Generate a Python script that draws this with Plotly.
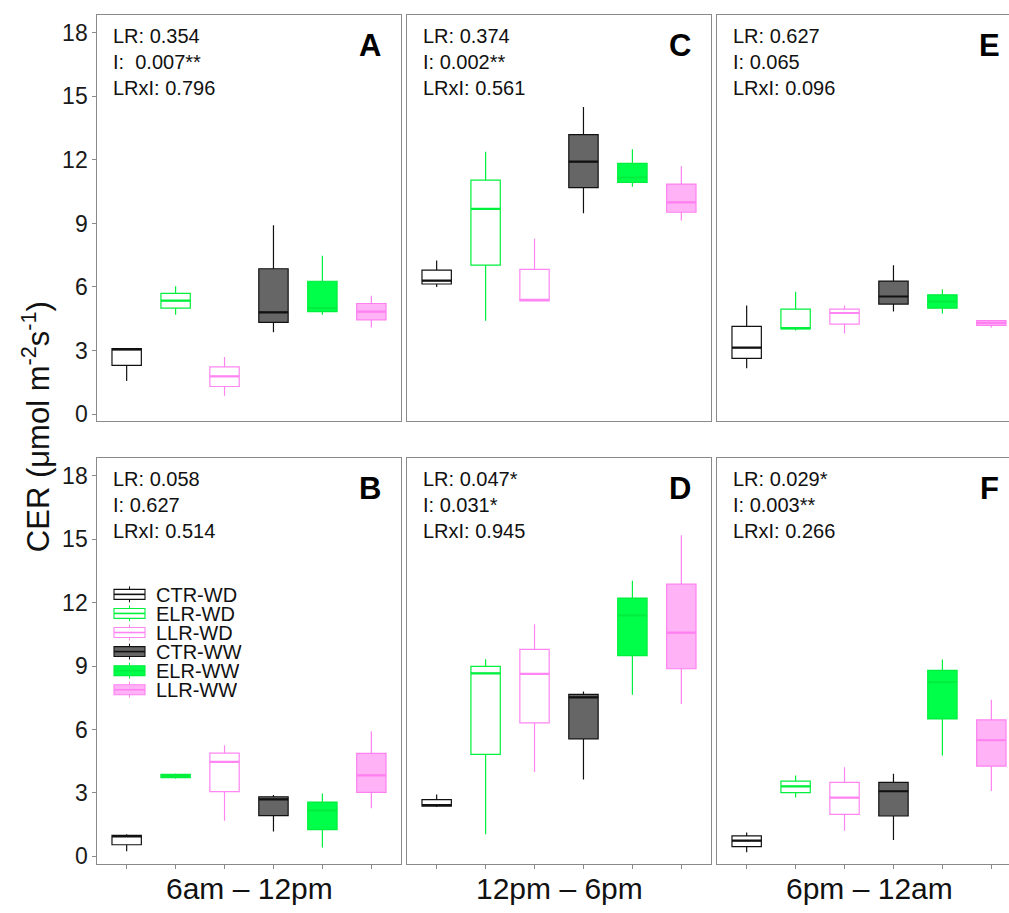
import plotly.graph_objects as go

# ---------------- data ----------------
groups = ["CTR-WD", "ELR-WD", "LLR-WD", "CTR-WW", "ELR-WW", "LLR-WW"]
positions = [1, 2, 3, 4, 5, 6]
time_labels = ["6am \u2013 12pm", "12pm \u2013 6pm", "6pm \u2013 12am"]
panel_letters = ["A", "C", "E", "B", "D", "F"]

# Panel A (6am-12pm, top)
lo_A = [1.56, 4.69, 0.86, 3.86, 4.69, 4.09]
q1_A = [2.30, 5.00, 1.30, 4.33, 4.84, 4.45]
md_A = [3.05, 5.36, 1.78, 4.80, 5.00, 4.84]
q3_A = [3.09, 5.70, 2.23, 6.86, 6.27, 5.22]
hi_A = [3.12, 6.03, 2.69, 8.91, 7.47, 5.58]
# Panel C (12pm-6pm, top)
lo_C = [6.00, 4.41, 5.34, 9.48, 10.73, 9.14]
q1_C = [6.14, 7.03, 5.34, 10.69, 10.94, 9.53]
md_C = [6.30, 9.69, 5.39, 11.92, 11.17, 10.00]
q3_C = [6.80, 11.05, 6.83, 13.20, 11.84, 10.86]
hi_C = [7.25, 12.39, 8.28, 14.50, 12.50, 11.70]
# Panel E (6pm-12am, top)
lo_E = [2.16, 3.94, 3.80, 4.84, 4.75, 4.09]
q1_E = [2.63, 4.02, 4.25, 5.19, 5.00, 4.19]
md_E = [3.14, 4.06, 4.77, 5.55, 5.31, 4.30]
q3_E = [4.14, 4.95, 4.95, 6.28, 5.63, 4.41]
hi_E = [5.13, 5.78, 5.13, 7.03, 5.89, 4.41]
# Panel B (6am-12pm, bottom)
lo_B = [0.24, 3.67, 1.68, 1.18, 0.42, 2.28]
q1_B = [0.55, 3.72, 3.06, 1.93, 1.27, 3.03]
md_B = [0.94, 3.80, 4.47, 2.70, 2.18, 3.83]
q3_B = [0.99, 3.88, 4.88, 2.82, 2.57, 4.87]
hi_B = [1.05, 3.92, 5.26, 2.90, 2.97, 5.92]
# Panel D (12pm-6pm, bottom)
lo_D = [2.34, 1.05, 3.99, 3.64, 7.64, 7.20]
q1_D = [2.37, 4.82, 6.31, 5.56, 9.49, 8.87]
md_D = [2.43, 8.65, 8.63, 7.52, 11.39, 10.58]
q3_D = [2.68, 8.98, 9.79, 7.66, 12.21, 12.87]
hi_D = [2.93, 9.32, 10.97, 7.80, 13.03, 15.18]
# Panel F (6pm-12am, bottom)
lo_F = [0.19, 2.78, 1.21, 0.77, 4.77, 3.09]
q1_F = [0.46, 3.01, 1.99, 1.91, 6.50, 4.27]
md_F = [0.75, 3.31, 2.78, 3.08, 8.24, 5.49]
q3_F = [0.97, 3.56, 3.50, 3.50, 8.79, 6.45]
hi_F = [1.13, 3.83, 4.22, 3.91, 9.31, 7.41]

stats_text = [
    ["LR: 0.354", "I:\u00a0 0.007**", "LRxI: 0.796"],
    ["LR: 0.374", "I: 0.002**", "LRxI: 0.561"],
    ["LR: 0.627", "I: 0.065", "LRxI: 0.096"],
    ["LR: 0.058", "I: 0.627", "LRxI: 0.514"],
    ["LR: 0.047*", "I: 0.031*", "LRxI: 0.945"],
    ["LR: 0.029*", "I: 0.003**", "LRxI: 0.266"],
]
y_ticks = [0, 3, 6, 9, 12, 15, 18]

# ---------------- style ----------------
line_colors = ["#111111", "#00f03c", "#ff85f2", "#111111", "#00ee3e", "#ff80f0"]
fill_colors = ["#ffffff", "#ffffff", "#ffffff", "#666666", "#00ff48", "#ffb3f6"]
frame_col = "#8a8a8a"
FONT = "Liberation Sans, Arial, Helvetica, sans-serif"
W, H = 1009, 913

def px(p):
    return p / W

def py(p):
    return 1 - p / H

col_px = [(97.3, 400.7), (407.3, 710.7), (717.3, 1020.7)]
row_px = [(15.0, 424.0), (460.7, 869.3)]
unit_px = (col_px[0][1] - col_px[0][0]) / 6.2
yrange = [-0.34, 18.85]

panels = [
    (lo_A, q1_A, md_A, q3_A, hi_A),
    (lo_C, q1_C, md_C, q3_C, hi_C),
    (lo_E, q1_E, md_E, q3_E, hi_E),
    (lo_B, q1_B, md_B, q3_B, hi_B),
    (lo_D, q1_D, md_D, q3_D, hi_D),
    (lo_F, q1_F, md_F, q3_F, hi_F),
]

fig = go.Figure()
layout = dict(
    width=W, height=H, margin=dict(l=0, r=0, t=0, b=0),
    plot_bgcolor="white", paper_bgcolor="white",
    showlegend=False, font=dict(family=FONT, color="#111111"),
    boxmode="overlay",
)
annotations = []
shapes = []

for k in range(6):
    r, c = divmod(k, 3)
    ax = "" if k == 0 else str(k + 1)
    xl, xr = col_px[c]
    yt, yb = row_px[r]
    xr_vis = min(xr, W)
    x_hi = 0.4 + (xr_vis - xl) / unit_px
    layout["xaxis" + ax] = dict(
        domain=[px(xl), px(xr_vis)], range=[0.4, x_hi], anchor="y" + ax,
        showline=True, mirror=True, linecolor=frame_col, linewidth=1,
        showgrid=False, zeroline=False, tickvals=positions,
        ticks="outside" if r == 1 else "", ticklen=4, tickcolor=frame_col,
        showticklabels=False, fixedrange=True,
    )
    layout["yaxis" + ax] = dict(
        domain=[py(yb), py(yt)], range=yrange, anchor="x" + ax,
        showline=True, mirror=(c != 2), linecolor=frame_col, linewidth=1,
        showgrid=False, zeroline=False, tickvals=y_ticks,
        ticks="outside" if c == 0 else "", ticklen=4, tickcolor=frame_col,
        showticklabels=(c == 0), tickfont=dict(size=23, color="#1a1a1a"),
        fixedrange=True,
    )
    lo, q1, md, q3, hi = panels[k]
    for g in range(6):
        fig.add_trace(go.Box(
            x=[positions[g]], q1=[q1[g]], median=[md[g]], q3=[q3[g]],
            lowerfence=[lo[g]], upperfence=[hi[g]], width=0.6, whiskerwidth=0,
            line=dict(color=line_colors[g], width=1.2), fillcolor=fill_colors[g],
            boxpoints=False, name=groups[g], xaxis="x" + ax, yaxis="y" + ax,
            hoverinfo="skip",
        ))
        # thicker median bar
        fig.add_trace(go.Box(
            x=[positions[g]], q1=[md[g]], median=[md[g]], q3=[md[g]],
            lowerfence=[md[g]], upperfence=[md[g]], width=0.6, whiskerwidth=0,
            line=dict(color=line_colors[g], width=2.2), fillcolor="rgba(0,0,0,0)",
            boxpoints=False, name=groups[g], xaxis="x" + ax, yaxis="y" + ax,
            hoverinfo="skip",
        ))
    # stats text
    annotations.append(dict(
        x=px(xl + 14), y=py(yt + 8), xref="paper", yref="paper",
        xanchor="left", yanchor="top", align="left", showarrow=False,
        text="<br>".join(stats_text[k]), font=dict(size=20, color="#111111"),
    ))
    # panel letter
    annotations.append(dict(
        x=px(xr - 31), y=py(yt + 31), xref="paper", yref="paper",
        xanchor="center", yanchor="middle", showarrow=False,
        text="<b>" + panel_letters[k] + "</b>", font=dict(size=31, color="#000000"),
    ))

# column titles
for c in range(3):
    xl, xr = col_px[c]
    annotations.append(dict(
        x=px((xl + xr) / 2), y=py(894), xref="paper", yref="paper",
        xanchor="center", yanchor="middle", showarrow=False,
        text=time_labels[c], font=dict(size=30, color="#111111"),
    ))

# y title
annotations.append(dict(
    x=px(36), y=py(430), xref="paper", yref="paper",
    xanchor="center", yanchor="middle", showarrow=False, textangle=-90,
    text="CER (\u03bcmol m<sup>-2</sup>s<sup>-1</sup>)", font=dict(size=31, color="#111111"),
))

# legend (panel B)
for g in range(6):
    yc = 598.3 + 19.2 * g
    x0, x1 = 114, 145
    xm = (x0 + x1) / 2
    shapes.append(dict(type="rect", xref="paper", yref="paper",
                       x0=px(x0), x1=px(x1), y0=py(yc + 5), y1=py(yc - 5),
                       line=dict(color=line_colors[g], width=1.1), fillcolor=fill_colors[g]))
    shapes.append(dict(type="line", xref="paper", yref="paper",
                       x0=px(x0), x1=px(x1), y0=py(yc), y1=py(yc),
                       line=dict(color=line_colors[g], width=1.6)))
    shapes.append(dict(type="line", xref="paper", yref="paper",
                       x0=px(xm), x1=px(xm), y0=py(yc - 8), y1=py(yc - 5),
                       line=dict(color=line_colors[g], width=1)))
    shapes.append(dict(type="line", xref="paper", yref="paper",
                       x0=px(xm), x1=px(xm), y0=py(yc + 5), y1=py(yc + 8),
                       line=dict(color=line_colors[g], width=1)))
    annotations.append(dict(
        x=px(154), y=py(yc), xref="paper", yref="paper",
        xanchor="left", yanchor="middle", showarrow=False, height=19,
        text=groups[g], font=dict(size=20, color="#111111"),
    ))

layout["annotations"] = annotations
layout["shapes"] = shapes
fig.update_layout(**layout)
fig.write_html("out.html")
